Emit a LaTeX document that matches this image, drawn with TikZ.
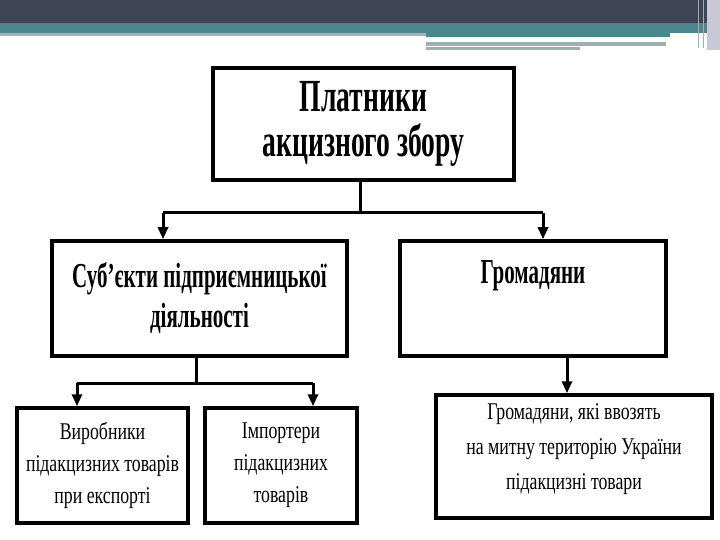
\documentclass[tikz,border=0pt]{standalone}
\usepackage{fontspec}
\newfontfamily\hb[FakeStretch=0.6]{Liberation Serif Bold}
\newfontfamily\rn[FakeStretch=0.74]{Liberation Serif}
\usetikzlibrary{arrows.meta}
\definecolor{barDark}{RGB}{63,69,85}
\definecolor{barTeal}{RGB}{74,134,140}
\definecolor{barLight}{RGB}{166,180,186}
\definecolor{barGray}{RGB}{160,176,178}
\definecolor{barSide}{RGB}{200,200,214}
\tikzset{
  box/.style={draw=black, line width=3.5pt, inner sep=0pt, align=center},
  bigtxt/.style={font=\hb\fontsize{46}{45}\selectfont},
  midtxt/.style={font=\hb\fontsize{35}{40}\selectfont},
  smalltxt/.style={font=\rn\fontsize{24}{32}\selectfont},
  wide/.style={font=\rn\fontsize{24}{35}\selectfont},
  conn/.style={line width=3pt},
  arr/.style={line width=3pt, -{Triangle[length=12pt,width=10pt]}}
}
\begin{document}
\begin{tikzpicture}[x=1pt,y=-1pt]
\useasboundingbox (0,0) rectangle (720,540);
\fill[white] (0,0) rectangle (720,540);
% top bar
\fill[barDark] (0,0) rectangle (720,23);
\fill[barTeal] (0,23) rectangle (707,33);
\fill[barLight] (0,33) rectangle (426,36);
\fill[barTeal] (426,33) rectangle (670,37);
\fill[barGray] (426,42) rectangle (666,46);
\fill[barGray] (426,47) rectangle (580,50);
\fill[barSide] (707,0) rectangle (720,50);
\draw[barGray, line width=1pt] (698,0) -- (698,48);
\draw[barGray, line width=1pt] (703,0) -- (703,48);
% boxes
\node[box, bigtxt, minimum width=301pt, minimum height=112pt] (top) at (363.5,124) {Платники\\акцизного збору};
\node[box, midtxt, minimum width=295pt, minimum height=115pt] (subj) at (199.5,298.5) {Суб’єкти підприємницької\\діяльності};
\node[box, midtxt, minimum width=266pt, minimum height=115pt] (citz) at (533,298.5) {Громадяни\\\strut};
\node[box, smalltxt, minimum width=171pt, minimum height=115pt] (prod) at (102.5,465.5) {Виробники\\підакцизних товарів\\при експорті};
\node[box, smalltxt, minimum width=152pt, minimum height=115pt] (imp) at (281,465.5) {Імпортери\\підакцизних\\товарів};
\node[box, wide, minimum width=276pt, minimum height=123pt] (imc) at (574,456.5) {Громадяни, які ввозять\\на митну територію України\\підакцизні товари\\[-16pt]\mbox{}};
% connectors
\coordinate (j1) at (360,213);
\coordinate (j2) at (196,383);
\draw[conn] (top.south -| j1) -- (j1);
\draw[conn] (163,213) -- (543,213);
\draw[arr] (163,213) -- (subj.north -| 163,0);
\draw[arr] (543,213) -- (citz.north -| 543,0);
\draw[conn] (subj.south -| j2) -- (j2);
\draw[conn] (77,383) -- (313,383);
\draw[arr] (77,383) -- (prod.north -| 77,0);
\draw[arr] (313,383) -- (imp.north -| 313,0);
\draw[arr] (citz.south -| 567,0) -- (imc.north -| 567,0);
\end{tikzpicture}
\end{document}
